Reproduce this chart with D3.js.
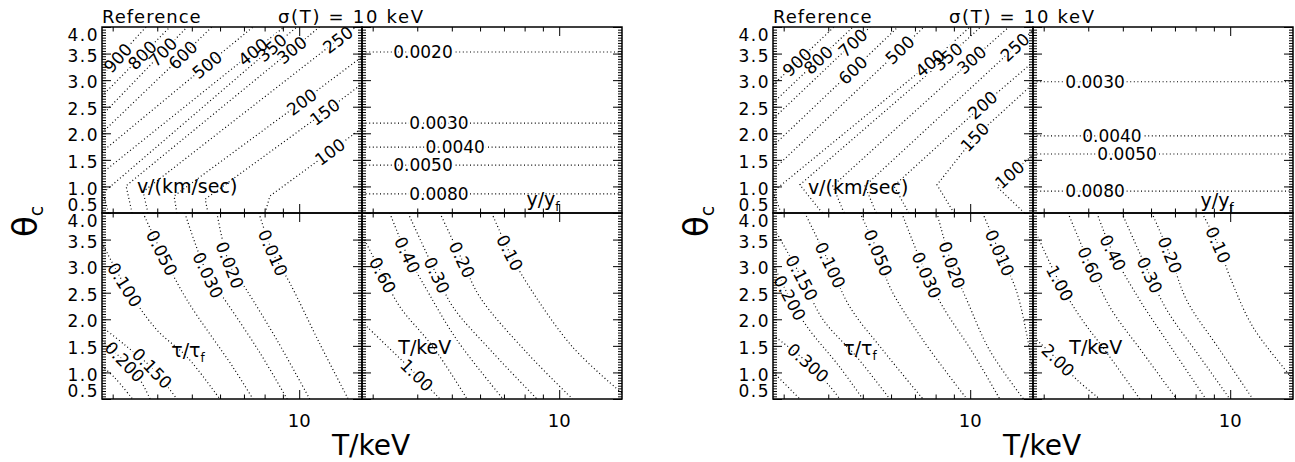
<!DOCTYPE html>
<html>
<head>
<meta charset="UTF-8">
<title>Contour panels</title>
<script src="https://d3js.org/d3.v7.min.js"></script>
<style>
  body { margin: 0; background: white; }
  svg { display: block; background: white; font-family: "DejaVu Sans", sans-serif; }
  .contour { fill: none; stroke: #000; stroke-width: 1.2; stroke-dasharray: 1 2.6; }
  .clabel { font-size: 17px; fill: #000; }
  .halo { font-size: 17px; fill: #fff; stroke: #fff; stroke-width: 4px; stroke-linejoin: round; }
  .note { font-size: 19px; fill: #000; }
  .ticklab { font-size: 17px; letter-spacing: 1.5px; fill: #000; }
  .tick line { stroke: #000; stroke-width: 1; }
  .frame { fill: none; stroke: #000; stroke-width: 1.5; }
</style>
</head>
<body>
<svg id="chart"></svg>
<script>
// axes
const xMinorTicks = [3, 4, 5, 6, 7, 8, 9];
const xMajorTicks = [10];
const xTickLabels = ["10"];
const yMajorTicks = [0.5, 1.0, 1.5, 2.0, 2.5, 3.0, 3.5, 4.0];
const yTickLabels = ["0.5", "1.0", "1.5", "2.0", "2.5", "3.0", "3.5", "4.0"];
const tDomain = [2.8, 15];
const thetaDomain = [0.5, 4.0];

// left figure: v/(km/sec) contours, points are [T/keV, theta_c]
const velLevelsA = ["900", "800", "700", "600", "500", "400", "350", "300", "250", "200", "150", "100"];
const velPathsA = [
  [[2.8, 3.08], [3.10, 3.42], [3.72, 4.0]],
  [[2.8, 2.70], [3.63, 3.47], [4.34, 4.0]],
  [[2.8, 2.34], [4.15, 3.53], [4.85, 4.0]],
  [[2.8, 2.01], [4.72, 3.47], [5.69, 4.0]],
  [[2.8, 1.65], [5.52, 3.29], [7.42, 4.0]],
  [[2.8, 1.25], [7.42, 3.53], [9.07, 4.0]],
  [[2.92, 0.5], [2.82, 0.88], [8.39, 3.61], [9.85, 4.0]],
  [[3.40, 0.5], [3.27, 1.01], [9.54, 3.57], [11.4, 4.0]],
  [[3.77, 0.5], [3.65, 0.90], [12.84, 3.76], [14.44, 4.0]],
  [[4.54, 0.5], [4.46, 0.82], [10.17, 2.59], [15, 3.44]],
  [[5.55, 0.5], [5.45, 0.76], [11.8, 2.40], [15, 2.93]],
  [[8.02, 0.5], [8.28, 0.82], [12.2, 1.65], [15, 2.10]]
];
const velLabelAtA = [1, 1, 1, 1, 1, 1, 2, 2, 2, 2, 2, 2];

const yyfLevelsA = ["0.0020", "0.0030", "0.0040", "0.0050", "0.0080"];
const yyfThetaA = [3.53, 2.19, 1.74, 1.40, 0.86];
const yyfLabelTA = [4.15, 4.60, 5.11, 4.15, 4.60];

const tauLevelsA = ["0.010", "0.020", "0.030", "0.050", "0.100", "0.150", "0.200", ""];
const tauPathsA = [
  [[7.71, 4.0], [8.44, 3.25], [9.42, 2.68], [11.4, 1.55], [13.72, 0.5]],
  [[5.88, 4.0], [6.39, 3.02], [7.12, 2.55], [8.66, 1.61], [10.7, 0.5]],
  [[4.78, 4.0], [5.55, 2.83], [6.27, 2.31], [7.76, 1.37], [9.25, 0.5]],
  [[3.65, 4.0], [4.12, 3.25], [4.85, 2.36], [6.52, 1.10], [7.42, 0.5]],
  [[2.8, 3.44], [3.24, 2.65], [3.99, 1.80], [4.85, 1.29], [5.99, 0.5]],
  [[2.8, 1.86], [3.24, 1.52], [3.87, 1.08], [4.54, 0.5]],
  [[2.8, 1.61], [3.24, 1.20], [3.58, 0.86], [3.82, 0.5]],
  [[2.8, 1.12], [3.04, 0.90], [3.41, 0.5]]
];
const tauLabelAtA = [1, 1, 1, 1, 1, 2, 1, -1];

const tempLevelsA = ["0.10", "0.20", "0.30", "0.40", "0.60", "1.00"];
const tempPathsA = [
  [[6.47, 4.0], [7.27, 3.25], [8.12, 2.68], [10.9, 1.48], [15, 0.61]],
  [[4.63, 4.0], [5.34, 3.12], [5.99, 2.42], [8.12, 1.37], [10.9, 0.5]],
  [[3.77, 4.0], [4.54, 2.83], [5.04, 2.23], [6.52, 1.37], [8.66, 0.5]],
  [[3.35, 4.0], [3.75, 3.21], [4.15, 2.68], [5.17, 1.61], [6.96, 0.5]],
  [[2.82, 3.55], [3.20, 2.83], [3.58, 2.23], [4.43, 1.48], [5.52, 0.5]],
  [[2.89, 1.86], [3.99, 0.95], [4.63, 0.5]]
];
const tempLabelAtA = [1, 1, 1, 1, 1, 1];

const noteTextsA = [["v/(km/sec)", ""], ["y/y", "f"], ["\u03c4/\u03c4", "f"], ["T/keV", ""]];
const notePosA = [[4.85, 1.01], [9.01, 0.76], [4.88, 1.42], [4.20, 1.48]];

// right figure
const velLevelsB = ["900", "800", "700", "600", "500", "400", "350", "300", "250", "200", "150", "100"];
const velPathsB = [
  [[2.8, 2.91], [3.27, 3.34], [4.15, 4.0]],
  [[2.8, 2.57], [3.75, 3.38], [4.69, 4.0]],
  [[2.8, 2.27], [4.69, 3.70], [5.24, 4.0]],
  [[2.8, 1.76], [4.69, 3.19], [6.27, 4.0]],
  [[2.8, 1.31], [6.35, 3.57], [7.42, 4.0]],
  [[2.95, 0.5], [2.8, 0.90], [7.71, 3.32], [9.98, 4.0]],
  [[3.85, 0.5], [3.33, 1.03], [8.66, 3.44], [10.7, 4.0]],
  [[4.43, 0.5], [4.12, 1.01], [10.1, 3.38], [12.84, 4.0]],
  [[5.45, 0.5], [5.07, 1.01], [13.35, 3.62], [15, 3.94]],
  [[6.73, 0.5], [6.11, 1.01], [10.84, 2.53], [15, 3.34]],
  [[9.01, 0.5], [8.07, 1.03], [10.3, 1.93], [15, 2.93]],
  [[14.2, 0.5], [11.9, 0.99], [12.9, 1.22], [15, 1.59]]
];
const velLabelAtB = [1, 1, 1, 1, 1, 2, 2, 2, 2, 2, 2, 2];

const yyfLevelsB = ["0.0030", "0.0040", "0.0050", "0.0080"];
const yyfThetaB = [2.97, 1.95, 1.61, 0.91];
const yyfLabelTB = [4.18, 4.66, 5.14, 4.18];

const tauLevelsB = ["0.010", "0.020", "0.030", "0.050", "0.100", "0.150", "0.200", "0.300", ""];
const tauPathsB = [
  [[10.84, 4.0], [12.1, 3.25], [13.45, 2.55], [14.5, 1.61], [15, 0.95]],
  [[8.07, 4.0], [8.89, 3.02], [9.79, 2.36], [11.33, 1.42], [14.1, 0.5]],
  [[6.43, 4.0], [7.55, 2.83], [8.39, 2.23], [10.17, 1.37], [12.1, 0.5]],
  [[4.91, 4.0], [5.52, 3.25], [5.95, 2.61], [7.37, 1.61], [9.79, 0.5]],
  [[3.44, 4.0], [4.05, 3.02], [4.60, 2.23], [5.69, 1.42], [7.37, 0.5]],
  [[2.87, 3.62], [3.37, 2.78], [3.87, 1.99], [4.81, 1.29], [5.95, 0.5]],
  [[2.83, 2.98], [3.12, 2.40], [3.49, 1.86], [4.31, 1.10], [5.0, 0.5]],
  [[2.8, 1.70], [3.51, 1.18], [4.05, 0.73], [4.31, 0.5]],
  [[2.8, 1.01], [3.33, 0.5]]
];
const tauLabelAtB = [1, 1, 1, 1, 1, 1, 1, 1, -1];

const tempLevelsB = ["0.10", "0.20", "0.30", "0.40", "0.60", "1.00", "2.00"];
const tempPathsB = [
  [[8.34, 4.0], [9.25, 3.40], [9.98, 2.80], [11.57, 1.86], [14.5, 0.99], [15, 0.86]],
  [[6.03, 4.0], [6.78, 3.21], [7.55, 2.36], [9.36, 1.42], [11.57, 0.5]],
  [[4.97, 4.0], [5.95, 2.83], [6.65, 2.17], [8.23, 1.29], [9.98, 0.5]],
  [[4.23, 4.0], [4.69, 3.25], [5.58, 2.36], [6.91, 1.42], [8.55, 0.5]],
  [[3.51, 4.0], [4.05, 3.02], [4.60, 2.23], [5.69, 1.37], [7.08, 0.5]],
  [[2.89, 3.55], [3.33, 2.68], [3.80, 2.04], [4.51, 1.37], [5.58, 0.5]],
  [[2.87, 1.61], [3.29, 1.23], [3.72, 0.86], [4.31, 0.5]]
];
const tempLabelAtB = [1, 1, 1, 1, 1, 1, 1];

const noteTextsB = [["v/(km/sec)", ""], ["y/y", "f"], ["\u03c4/\u03c4", "f"], ["T/keV", ""]];
const notePosB = [[4.85, 0.99], [9.19, 0.74], [4.91, 1.46], [4.20, 1.48]];

const titleLeft = "Reference";
const titleRight = "\u03c3(T) = 10 keV";

const width = 1295, height = 462;
const figOffsets = [0, 671];
const box = {left: 102, mid: 362, right: 622, top: 27, split: 213, bottom: 399};

const svg = d3.select("#chart").attr("width", width).attr("height", height);

// horizontal y/y_f lines become contour paths
function flatPaths(thetas, labelTs) {
  return thetas.map((th, i) => [[tDomain[0], th], [labelTs[i], th], [tDomain[1], th]]);
}

const figures = [
  {
    vel: {levels: velLevelsA, paths: velPathsA, at: velLabelAtA},
    yyf: {levels: yyfLevelsA, paths: flatPaths(yyfThetaA, yyfLabelTA), at: yyfLevelsA.map(() => 1)},
    tau: {levels: tauLevelsA, paths: tauPathsA, at: tauLabelAtA},
    temp: {levels: tempLevelsA, paths: tempPathsA, at: tempLabelAtA},
    notes: noteTextsA, notePos: notePosA
  },
  {
    vel: {levels: velLevelsB, paths: velPathsB, at: velLabelAtB},
    yyf: {levels: yyfLevelsB, paths: flatPaths(yyfThetaB, yyfLabelTB), at: yyfLevelsB.map(() => 1)},
    tau: {levels: tauLevelsB, paths: tauPathsB, at: tauLabelAtB},
    temp: {levels: tempLevelsB, paths: tempPathsB, at: tempLabelAtB},
    notes: noteTextsB, notePos: notePosB
  }
];

const yMinorTicks = d3.range(0, 71).map(i => 0.5 + i * 0.05);

function tickAxis(g, gen, vals, size, tx, ty) {
  g.append("g")
    .attr("transform", `translate(${tx},${ty})`)
    .call(gen.tickValues(vals).tickSize(size).tickSizeOuter(0).tickFormat(""))
    .call(s => s.select(".domain").remove())
    .call(s => s.selectAll("text").remove());
}

function drawFigure(fi, fig) {
  const g = svg.append("g").attr("transform", `translate(${figOffsets[fi]},0)`);

  const xL = d3.scaleLog().domain(tDomain).range([box.left, box.mid]);
  const xR = d3.scaleLog().domain(tDomain).range([box.mid, box.right]);
  const yT = d3.scaleLinear().domain(thetaDomain).range([box.split, box.top]);
  const yB = d3.scaleLinear().domain(thetaDomain).range([box.bottom, box.split]);

  const panels = [
    {x: xL, y: yT, set: fig.vel, curve: d3.curveLinear},
    {x: xR, y: yT, set: fig.yyf, curve: d3.curveLinear},
    {x: xL, y: yB, set: fig.tau, curve: d3.curveCatmullRom},
    {x: xR, y: yB, set: fig.temp, curve: d3.curveCatmullRom}
  ];

  panels.forEach((p, pi) => {
    const [x0, x1] = p.x.range();
    const [y1, y0] = p.y.range();
    const clipId = `clip-${fi}-${pi}`;
    g.append("clipPath").attr("id", clipId)
      .append("rect").attr("x", x0).attr("y", y0).attr("width", x1 - x0).attr("height", y1 - y0);

    const line = d3.line().x(d => p.x(d[0])).y(d => p.y(d[1])).curve(p.curve);

    g.append("g").attr("clip-path", `url(#${clipId})`)
      .selectAll("path")
      .data(p.set.paths)
      .join("path")
      .attr("class", "contour")
      .attr("d", line);

    // contour labels, rotated along the local direction of the line
    const labs = [];
    p.set.paths.forEach((pts, i) => {
      const k = p.set.at[i];
      const txt = p.set.levels[i];
      if (k < 0 || !txt) return;
      const a = pts[k - 1], b = pts[k + 1];
      let ang = Math.atan2(p.y(b[1]) - p.y(a[1]), p.x(b[0]) - p.x(a[0])) * 180 / Math.PI;
      if (ang > 90) ang -= 180;
      if (ang < -90) ang += 180;
      labs.push({txt, tr: `translate(${p.x(pts[k][0])},${p.y(pts[k][1])}) rotate(${ang})`});
    });
    // white gap behind the labels first, then the labels themselves
    ["halo", "clabel"].forEach(cls => {
      g.append("g").selectAll("text")
        .data(labs)
        .join("text")
        .attr("class", cls)
        .attr("text-anchor", "middle")
        .attr("dy", "0.36em")
        .attr("transform", d => d.tr)
        .text(d => d.txt);
    });

    // panel note
    const [main, sub] = fig.notes[pi];
    const np = fig.notePos[pi];
    const nt = g.append("text")
      .attr("class", "note")
      .attr("text-anchor", "middle")
      .attr("x", p.x(np[0]))
      .attr("y", p.y(np[1]))
      .attr("dy", "0.36em")
      .text(main);
    if (sub) nt.append("tspan").attr("dy", 5).attr("font-size", 12).text(sub);

    // ticks on all four sides, pointing inwards
    tickAxis(g, d3.axisBottom(p.x), xMinorTicks, -4.5, 0, y1);
    tickAxis(g, d3.axisBottom(p.x), xMajorTicks, -9, 0, y1);
    tickAxis(g, d3.axisTop(p.x), xMinorTicks, -4.5, 0, y0);
    tickAxis(g, d3.axisTop(p.x), xMajorTicks, -9, 0, y0);
    tickAxis(g, d3.axisLeft(p.y), yMinorTicks, -4, x0, 0);
    tickAxis(g, d3.axisLeft(p.y), yMajorTicks, -9, x0, 0);
    tickAxis(g, d3.axisRight(p.y), yMinorTicks, -4, x1, 0);
    tickAxis(g, d3.axisRight(p.y), yMajorTicks, -9, x1, 0);

    g.append("rect").attr("class", "frame")
      .attr("x", x0).attr("y", y0).attr("width", x1 - x0).attr("height", y1 - y0);

    // y tick labels on the left panels
    if (pi % 2 === 0) {
      yMajorTicks.forEach((v, i) => {
        const yy = Math.min(Math.max(p.y(v) + 2, y0 + 8), y1 - 8);
        g.append("text").attr("class", "ticklab")
          .attr("text-anchor", "end")
          .attr("x", x0 - 3).attr("y", yy).attr("dy", "0.36em")
          .text(yTickLabels[i]);
      });
    }
    // x tick labels under the bottom panels
    if (pi >= 2) {
      xMajorTicks.forEach((v, i) => {
        g.append("text").attr("class", "ticklab")
          .attr("text-anchor", "middle")
          .attr("x", p.x(v)).attr("y", 427)
          .style("font-size", "18px").style("letter-spacing", "0px")
          .text(xTickLabels[i]);
      });
    }
  });

  g.append("text")
    .attr("x", box.left).attr("y", 23)
    .style("font-size", "18px").style("letter-spacing", "1px")
    .text(titleLeft);

  g.append("text")
    .attr("x", 278).attr("y", 23)
    .attr("textLength", 145).attr("lengthAdjust", "spacing")
    .style("font-size", "18px")
    .text(titleRight);

  g.append("text")
    .attr("text-anchor", "middle")
    .attr("x", 371).attr("y", 455)
    .style("font-size", "28px")
    .text("T/keV");

  const yt = g.append("text")
    .attr("transform", "translate(37,237) rotate(-90)")
    .style("font-size", "34px")
    .text("\u03b8");
  yt.append("tspan").attr("dy", 6).style("font-size", "19px").text("c");
}

figures.forEach((fig, i) => drawFigure(i, fig));
</script>
</body>
</html>
